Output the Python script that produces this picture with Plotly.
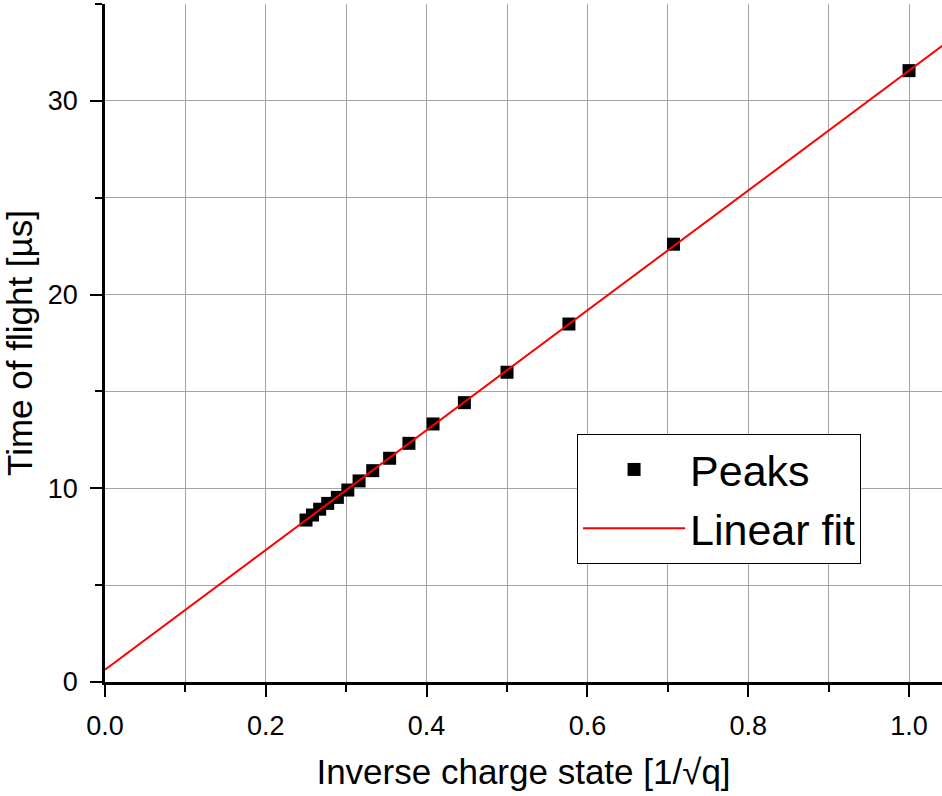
import plotly.graph_objects as go

# Data
inv_q = [1.0, 0.707, 0.577, 0.5, 0.447, 0.408, 0.378, 0.354, 0.333, 0.316,
         0.302, 0.289, 0.277, 0.267, 0.258, 0.25]
tof = [31.56, 22.6, 18.48, 15.99, 14.42, 13.32, 12.32, 11.55, 10.91, 10.38,
       9.91, 9.53, 9.22, 8.92, 8.62, 8.36]
fit_slope = 30.93
fit_intercept = 0.63
fit_x = [0.0, 1.06]
fit_y = [fit_intercept + fit_slope * v for v in fit_x]

FONT = "Arial, Liberation Sans, sans-serif"

fig = go.Figure()
fig.add_trace(go.Scatter(
    x=inv_q, y=tof, mode="markers", name="Peaks",
    marker=dict(symbol="square", size=13, color="black", line=dict(width=0)),
))
fig.add_trace(go.Scatter(
    x=fit_x, y=fit_y, mode="lines", name="Linear fit",
    line=dict(color="red", width=2),
))

axis_common = dict(
    showline=True, linecolor="black", linewidth=2.5,
    ticks="outside", tickwidth=2, ticklen=12, tickcolor="black",
    showgrid=True, gridcolor="#a3a3a3", gridwidth=1,
    zeroline=False,
    tickfont=dict(family=FONT, size=27, color="black"),
)

fig.update_layout(
    width=942, height=796,
    margin=dict(l=105, r=0, t=4, b=114),
    paper_bgcolor="white", plot_bgcolor="white",
    font=dict(family=FONT, color="black"),
    xaxis=dict(
        range=[0, 1.041], tick0=0, dtick=0.2, tickformat=".1f",
        minor=dict(dtick=0.1, ticks="outside", ticklen=7, tickwidth=2,
                   tickcolor="black", showgrid=True, gridcolor="#a3a3a3", gridwidth=1),
        title=dict(text="Inverse charge state [1/√q]", font=dict(size=35, family=FONT),
                   standoff=20),
        ticklabelstandoff=6,
        **axis_common,
    ),
    yaxis=dict(
        range=[0, 35], tick0=0, dtick=10,
        minor=dict(dtick=5, ticks="outside", ticklen=7, tickwidth=2,
                   tickcolor="black", showgrid=True, gridcolor="#a3a3a3", gridwidth=1),
        title=dict(text="Time of flight [µs]", font=dict(size=35, family=FONT),
                   standoff=9),
        ticklabelstandoff=7,
        **axis_common,
    ),
    legend=dict(
        x=0.564, y=0.3658, xanchor="left", yanchor="top",
        bgcolor="white", bordercolor="black", borderwidth=1,
        font=dict(size=43, family=FONT, color="black"),
        itemwidth=102,
        tracegroupgap=0,
    ),
    showlegend=True,
)

fig.write_html("out.html")
